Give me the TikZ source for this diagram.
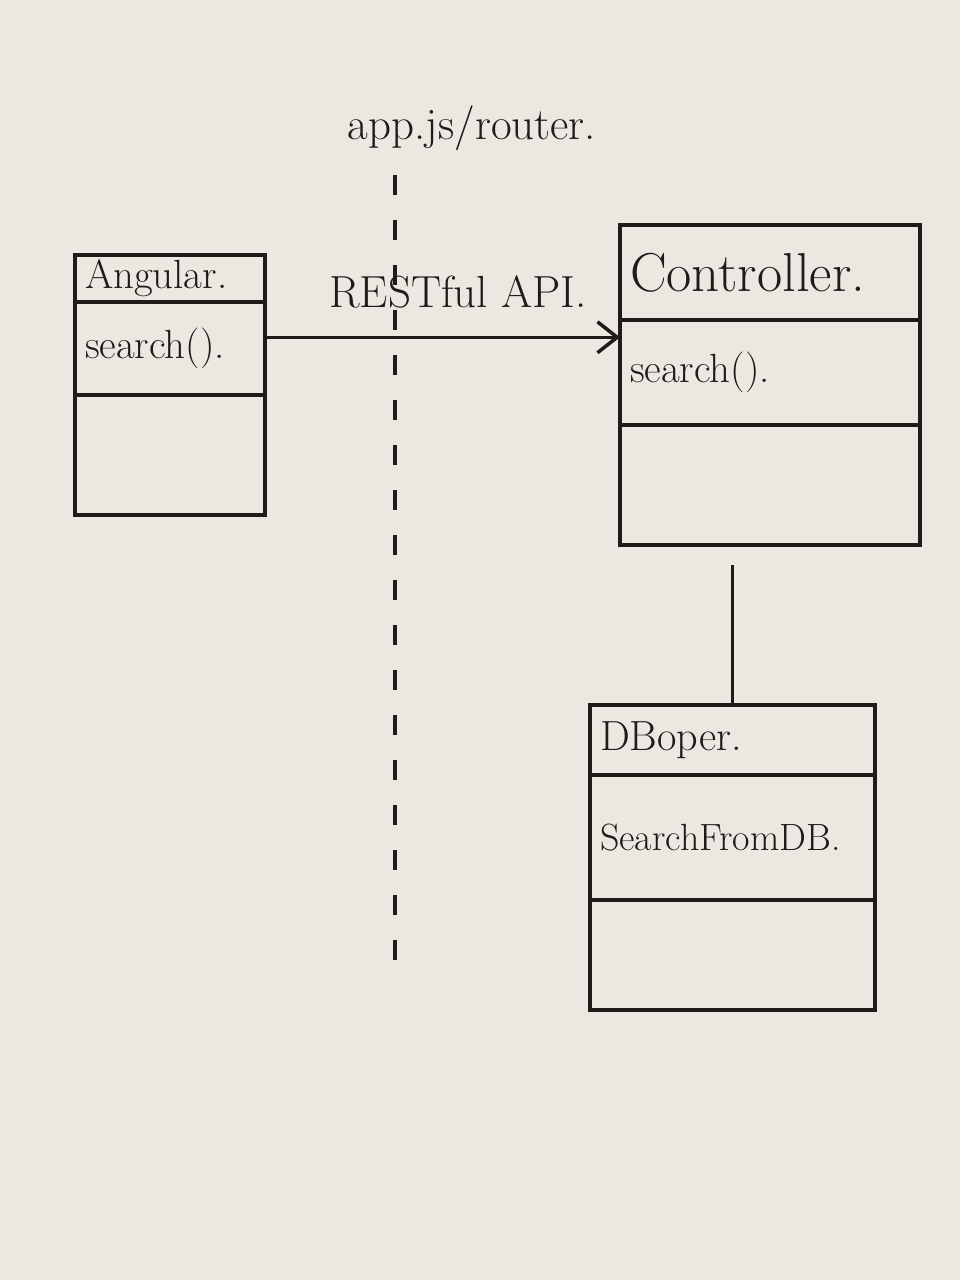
\documentclass[tikz,border=0pt]{standalone}
\usepackage{tikz}
\usetikzlibrary{positioning,arrows.meta}
\definecolor{board}{HTML}{ECE8E1}
\definecolor{inkc}{HTML}{1E1B19}
\tikzset{
  part/.style={draw=inkc, line width=2.8pt, rectangle, inner xsep=0.25cm,
    inner ysep=0pt, outer sep=0pt, align=left, text=inkc,
    font=\fontsize{29}{33}\selectfont},
  link/.style={draw=inkc, line width=2.5pt},
  tag/.style={text=inkc, font=\fontsize{32}{36}\selectfont},
  routerline/.style={draw=inkc, line width=2.5pt, dash pattern=on 14pt off 18pt}
}
\begin{document}
\begin{tikzpicture}[x=0.025cm,y=-0.025cm]
  \fill[board](0,0) rectangle (960,1280);
  \useasboundingbox(0,0) rectangle (960,1280);
  \node[part, anchor=north west, text width=4.25cm, minimum height=1.175cm]
    (angname) at (75,255){Angular.};
  \node[part, below=0pt of angname, text width=4.25cm, minimum height=2.325cm]
    (angmeth){search().};
  \node[part, below=0pt of angmeth, text width=4.25cm, minimum height=3cm]
    (angempty){};
  \node[part, anchor=north west, text width=7cm, minimum height=2.375cm,
    font=\fontsize{39}{43}\selectfont](ctlname) at (620,225){Controller.};
  \node[part, below=0pt of ctlname, text width=7cm, minimum height=2.625cm]
    (ctlmeth){search().};
  \node[part, below=0pt of ctlmeth, text width=7cm, minimum height=3cm]
    (ctlempty){};
  \node[part, anchor=north west, text width=6.625cm, minimum height=1.75cm,
    font=\fontsize{30}{34}\selectfont](dbname) at (590,705){DBoper.};
  \node[part, below=0pt of dbname, text width=6.625cm, minimum height=3.125cm,
    font=\fontsize{27}{31}\selectfont](dbmeth){SearchFromDB.};
  \node[part, below=0pt of dbmeth, text width=6.625cm, minimum height=2.75cm]
    (dbempty){};
  \node[tag](router) at (472,128){app.js/router.};
  \node[tag](rest) at (458,292){RESTful API.};
  \coordinate(rtop) at (395,175);
  \coordinate(rbot) at (395,975);
  \draw[routerline](rtop)--(rbot);
  \draw[link,-{Straight Barb[length=14pt,width=22pt]}]
    ([yshift=8pt]angmeth.east)--([yshift=8pt]angmeth.east -| ctlmeth.west);
  \draw[link](dbname.north)--([yshift=-14pt]dbname.north |- ctlempty.south);
\end{tikzpicture}
\end{document}
